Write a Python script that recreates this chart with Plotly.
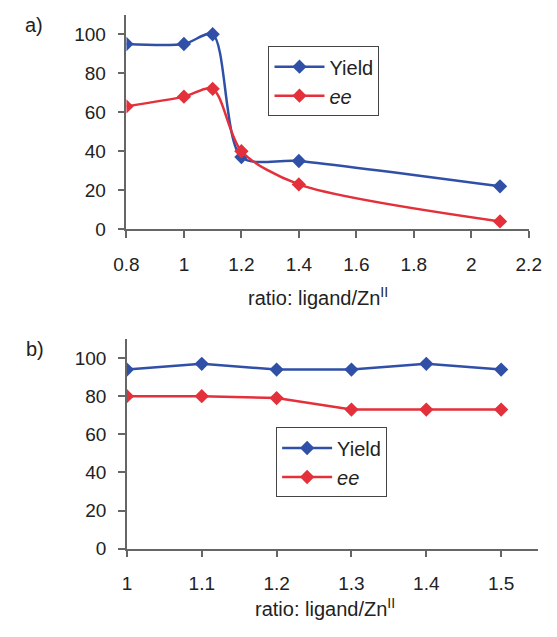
import plotly.graph_objects as go

# Panel a data
x_a = [0.8, 1.0, 1.1, 1.2, 1.4, 2.1]
yield_a = [95, 95, 100, 37, 35, 22]
ee_a = [63, 68, 72, 40, 23, 4]

# Panel b data
x_b = [1.0, 1.1, 1.2, 1.3, 1.4, 1.5]
yield_b = [94, 97, 94, 94, 97, 94]
ee_b = [80, 80, 79, 73, 73, 73]

x_ticks_a = [0.8, 1, 1.2, 1.4, 1.6, 1.8, 2, 2.2]
x_ticks_b = [1, 1.1, 1.2, 1.3, 1.4, 1.5]
y_ticks = [0, 20, 40, 60, 80, 100]

W, H = 557, 637
BLUE = "#3050A8"
RED = "#E3303A"
FONT = "Arial, Liberation Sans, sans-serif"
AXC = "#666666"
TXT = "#222222"

fig = go.Figure()

mk = dict(symbol="diamond", size=11)
fig.add_trace(go.Scatter(x=x_a, y=yield_a, name="Yield", mode="lines+markers",
                         line=dict(color=BLUE, width=2.5, shape="spline", smoothing=0.8),
                         marker=dict(color=BLUE, **mk), xaxis="x", yaxis="y", legend="legend"))
fig.add_trace(go.Scatter(x=x_a, y=ee_a, name="<i>ee</i>", mode="lines+markers",
                         line=dict(color=RED, width=2.5, shape="spline", smoothing=0.8),
                         marker=dict(color=RED, **mk), xaxis="x", yaxis="y", legend="legend"))
fig.add_trace(go.Scatter(x=x_b, y=yield_b, name="Yield", mode="lines+markers",
                         line=dict(color=BLUE, width=2.5),
                         marker=dict(color=BLUE, **mk), xaxis="x2", yaxis="y2", legend="legend2"))
fig.add_trace(go.Scatter(x=x_b, y=ee_b, name="<i>ee</i>", mode="lines+markers",
                         line=dict(color=RED, width=2.5),
                         marker=dict(color=RED, **mk), xaxis="x2", yaxis="y2", legend="legend2"))

axis_common = dict(showline=True, linecolor=AXC, linewidth=1.5, ticks="outside",
                   ticklen=7, tickcolor=AXC, tickwidth=1.5, showgrid=False, zeroline=False,
                   tickfont=dict(family=FONT, size=19, color=TXT))

def px_x(p):
    return p / W

def px_y(p):
    return 1 - p / H

legend_common = dict(bgcolor="white", bordercolor="#444", borderwidth=1,
                     font=dict(family=FONT, size=20, color=TXT), itemwidth=50,
                     xanchor="left", yanchor="top", tracegroupgap=0)

fig.update_layout(
    width=W, height=H, margin=dict(l=0, r=0, t=0, b=0),
    plot_bgcolor="white", paper_bgcolor="white",
    xaxis=dict(domain=[px_x(119), px_x(541)], range=[0.8, 2.2], tickvals=x_ticks_a,
               ticktext=[f"{v:g}" for v in x_ticks_a], anchor="y", ticklabelstandoff=10,
               **axis_common),
    yaxis=dict(domain=[px_y(233.3), px_y(15)], range=[0, 110], tickvals=y_ticks,
               anchor="x", ticklabelstandoff=8, **axis_common),
    xaxis2=dict(domain=[px_x(119.5), px_x(550.5)], range=[1, 1.549], tickvals=x_ticks_b,
                ticktext=[f"{v:g}" for v in x_ticks_b], anchor="y2", ticklabelstandoff=10,
                **axis_common),
    yaxis2=dict(domain=[px_y(558.3), px_y(345)], range=[0, 110], tickvals=y_ticks,
                anchor="x2", ticklabelstandoff=8, **axis_common),
    legend=dict(x=px_x(268), y=px_y(47), **legend_common),
    legend2=dict(x=px_x(276), y=px_y(435), **legend_common),
    showlegend=True,
)

ann_font = dict(family=FONT, size=20, color=TXT)
fig.add_annotation(x=px_x(320), y=px_y(302), xref="paper", yref="paper",
                   xanchor="center", yanchor="middle",
                   text="ratio: ligand/Zn<sup>II</sup>", showarrow=False, font=ann_font)
fig.add_annotation(x=px_x(327), y=px_y(618), xref="paper", yref="paper",
                   xanchor="center", yanchor="middle",
                   text="ratio: ligand/Zn<sup>II</sup>", showarrow=False, font=ann_font)
fig.add_annotation(x=px_x(22), y=px_y(25), xref="paper", yref="paper",
                   xanchor="center", yanchor="middle",
                   text="a)", showarrow=False, font=dict(family=FONT, size=20, color=TXT))
fig.add_annotation(x=px_x(23), y=px_y(355), xref="paper", yref="paper",
                   xanchor="center", yanchor="middle",
                   text="b)", showarrow=False, font=dict(family=FONT, size=20, color=TXT))

fig.write_html("out.html", config={"displayModeBar": False},
               post_script="document.body.style.margin='0';")
